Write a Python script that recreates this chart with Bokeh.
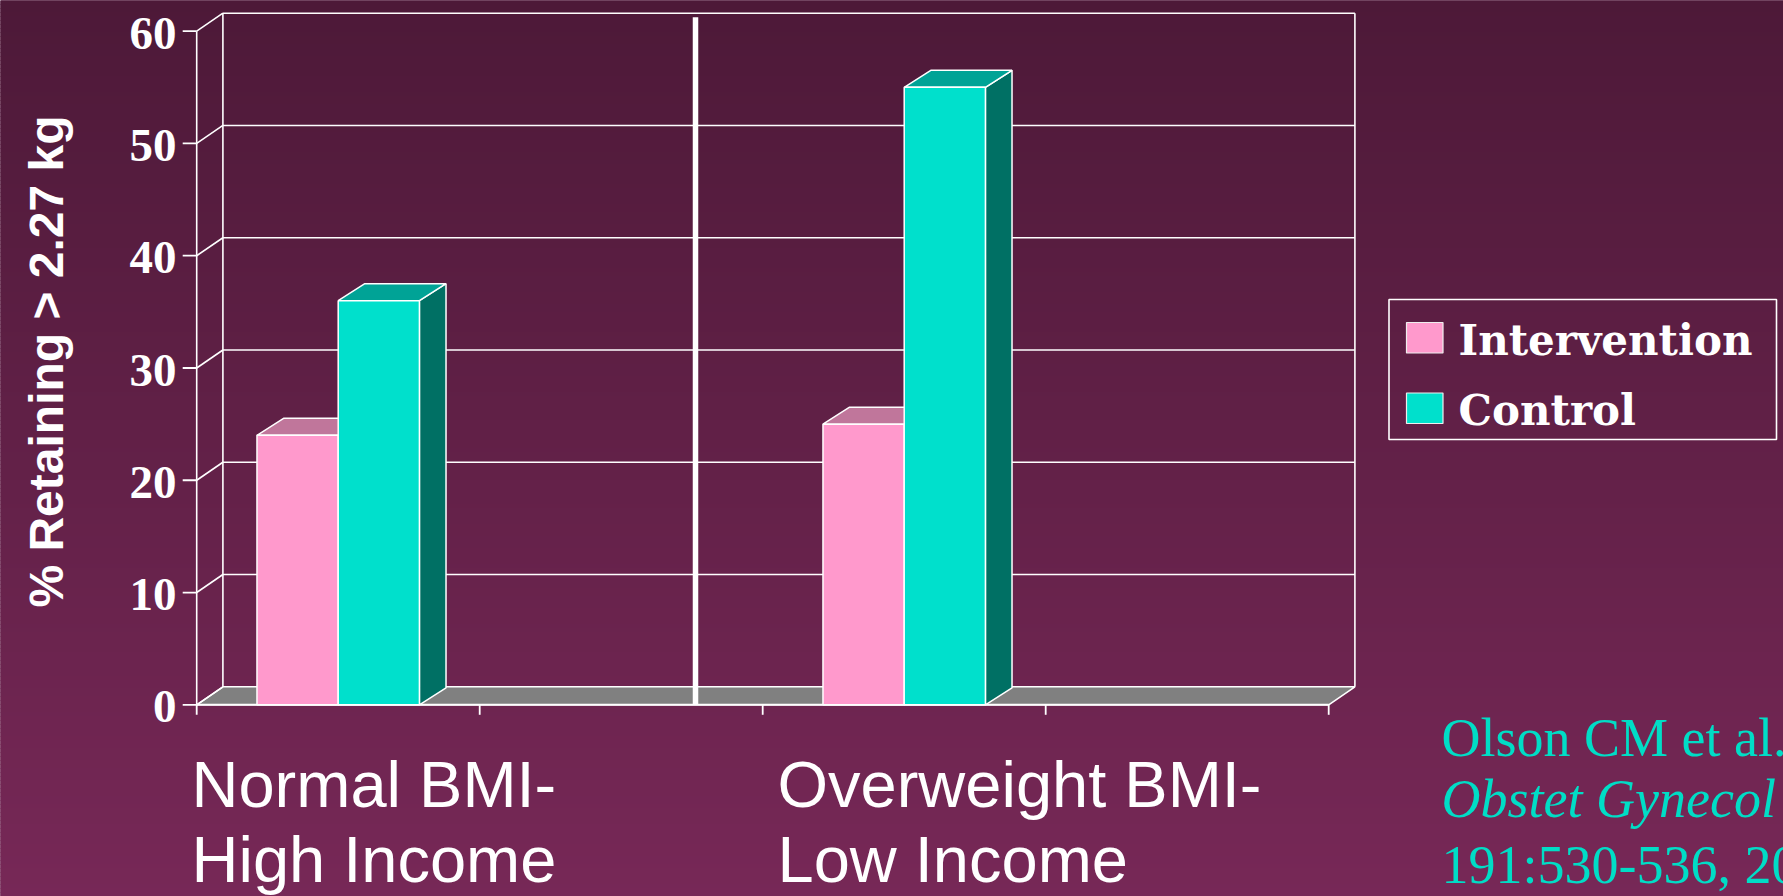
import numpy as np
from bokeh.plotting import figure
from bokeh.models import Range1d
from bokeh.core.properties import value
from bokeh.embed import file_html
from bokeh.resources import INLINE

# ---------------- data ----------------
categories = ["Normal BMI-\nHigh Income", "Overweight BMI-\nLow Income"]
category_slots = [0, 2]          # slot index on the 4-slot category axis
n_slots = 4
series_names = ["Intervention", "Control"]
intervention = [24, 25]
control = [36, 55]
y_ticks = [0, 10, 20, 30, 40, 50, 60]
y_tick_labels = ["0", "10", "20", "30", "40", "50", "60"]
y_title = "% Retaining > 2.27 kg"
citation = ["Olson CM et al.", "Obstet Gynecol", "191:530-536, 2004"]

# ---------------- colours ----------------
BG_TOP = np.array([77, 25, 56])
BG_BOT = np.array([119, 40, 87])
PINK_FRONT, PINK_TOP, PINK_SIDE = "#FF99CC", "#C0769B", "#A0607F"
CYAN_FRONT, CYAN_TOP, CYAN_SIDE = "#00E0CC", "#00A396", "#007064"
FLOOR = "#808080"
CITE = "#00DDC6"

# ---------------- pixel <-> data helpers (full-image pixels) ----------------
X0_PX, XU_PX = 196.2, 283.0      # x of category-axis origin, px per slot
Y0_PX, YU_PX = 704.3, 11.227     # y of value 0, px per value unit
OFF = 0
BASE_CORR = 0.36                 # empirical baseline correction (em)


def px2x(px):
    return (px - X0_PX) / XU_PX


def px2y(py):
    return (Y0_PX - py) / YU_PX


def base_y(py, fs):
    return px2y(py - BASE_CORR * fs)


W, H = 1783, 896
xr = Range1d(px2x(OFF), px2x(OFF + W))
yr = Range1d(px2y(OFF + H), px2y(OFF))

p = figure(width=W, height=H, x_range=xr, y_range=yr, output_backend="svg",
           toolbar_location=None, x_axis_type=None, y_axis_type=None,
           min_border=0)
p.outline_line_color = None
p.background_fill_color = "#62214A"
p.border_fill_color = "#62214A"

# ---------------- gradient background ----------------
NS = 224
edges = np.linspace(OFF, OFF + H, NS + 1)
tops, bots, cols = [], [], []
for i in range(NS):
    t = (edges[i] - OFF) / H
    c = BG_TOP * (1 - t) + BG_BOT * t
    cols.append("#%02x%02x%02x" % tuple(int(round(v)) for v in c))
    tops.append(px2y(edges[i]))
    bots.append(px2y(edges[i + 1]))
p.quad(left=xr.start, right=xr.end, top=tops, bottom=bots,
       fill_color=cols, line_color=cols, line_width=1)

# ---------------- 3D wall / floor ----------------
dxu = 26.2 / XU_PX
dyu = 18.0 / YU_PX
ymax = y_ticks[-1]

p.patch(x=[0, n_slots, n_slots + dxu, dxu], y=[0, 0, dyu, dyu],
        fill_color=FLOOR, line_color="white", line_width=1.6)

xs, ys = [], []
for v in y_ticks[1:]:
    xs.append([dxu, n_slots + dxu]); ys.append([v + dyu, v + dyu])
for v in y_ticks:
    xs.append([0, dxu]); ys.append([v, v + dyu])
xs.append([dxu, dxu]); ys.append([dyu, ymax + dyu])
xs.append([n_slots + dxu, n_slots + dxu]); ys.append([dyu, ymax + dyu])
xs.append([0, 0]); ys.append([0, ymax])
p.multi_line(xs=xs, ys=ys, line_color="white", line_width=1.6)

# axis ticks
p.segment(x0=[-14 / XU_PX] * len(y_ticks), y0=y_ticks, x1=[0] * len(y_ticks),
          y1=y_ticks, line_color="white", line_width=1.8)
slots = list(range(n_slots + 1))
p.segment(x0=slots, y0=[0] * len(slots), x1=slots,
          y1=[-10 / YU_PX] * len(slots), line_color="white", line_width=1.8)
p.segment(x0=[0], y0=[0], x1=[n_slots], y1=[0], line_color="white", line_width=2)

# ---------------- 3D bars ----------------
BW = 0.287
dxb = 26.6 / XU_PX
dyb = 17.0 / YU_PX


def bar3d(lefts, vals, front, top, side):
    rights = [l + BW for l in lefts]
    p.patches(xs=[[r, r + dxb, r + dxb, r] for r in rights],
              ys=[[0, dyb, v + dyb, v] for v in vals],
              fill_color=side, line_color="white", line_width=1.5)
    p.patches(xs=[[l, r, r + dxb, l + dxb] for l, r in zip(lefts, rights)],
              ys=[[v, v, v + dyb, v + dyb] for v in vals],
              fill_color=top, line_color="white", line_width=1.5)
    p.quad(left=lefts, right=rights, bottom=[0] * len(vals), top=vals,
           fill_color=front, line_color="white", line_width=1.5)


centers = [s + 0.5 for s in category_slots]
bar3d([c - BW for c in centers], intervention, PINK_FRONT, PINK_TOP, PINK_SIDE)
bar3d(list(centers), control, CYAN_FRONT, CYAN_TOP, CYAN_SIDE)

# separator line between the two groups
sep_x = px2x(695.0)
p.segment(x0=[sep_x], y0=[0], x1=[sep_x], y1=[px2y(16.7)],
          line_color="white", line_width=5.5)

# ---------------- texts ----------------
FS_TICK = 47
p.text(x=[px2x(176)] * len(y_ticks),
       y=[v - (19.0 - BASE_CORR * FS_TICK) / YU_PX for v in y_ticks],
       text=y_tick_labels, text_font=value("Liberation Serif"),
       text_font_style="bold", text_font_size="%dpx" % FS_TICK, text_color="white",
       text_align="right", text_baseline="alphabetic")

FS_YT = 48
p.text(x=[px2x(63 - BASE_CORR * FS_YT)], y=[px2y(361)], text=[y_title], angle=np.pi / 2,
       text_font=value("Liberation Sans"), text_font_style="bold",
       text_font_size="%dpx" % FS_YT, text_color="white", text_align="center",
       text_baseline="alphabetic")

FS_CAT = 65
label_left_px = [191.0, 777.0]
line_base_px = [807.0, 882.0]
for lx, cat in zip(label_left_px, categories):
    lines = cat.split("\n")
    p.text(x=[px2x(lx)] * len(lines),
           y=[base_y(b, FS_CAT) for b in line_base_px[:len(lines)]],
           text=lines, text_font=value("Liberation Sans"),
           text_font_size="%dpx" % FS_CAT,
           text_color="white", text_align="left", text_baseline="alphabetic")

# legend
p.quad(left=[px2x(1388.5)], right=[px2x(1776)], top=[px2y(299)], bottom=[px2y(439)],
       fill_color=None, line_color="white", line_width=1.6)
sw_top_px = [322.0, 392.5]
p.quad(left=[px2x(1406)] * 2, right=[px2x(1442.5)] * 2,
       top=[px2y(t) for t in sw_top_px], bottom=[px2y(t + 30.5) for t in sw_top_px],
       fill_color=[PINK_FRONT, CYAN_FRONT], line_color="#EEEEEE", line_width=1.2)
FS_LEG = 42
p.text(x=[px2x(1458)] * 2, y=[base_y(355, FS_LEG), base_y(425, FS_LEG)],
       text=series_names,
       text_font=value("DejaVu Serif"), text_font_style="bold",
       text_font_size="%dpx" % FS_LEG, text_color="white", text_align="left",
       text_baseline="alphabetic")

# citation
FS_CITE = 54
cite_base_px = [757.0, 818.0, 884.0]
cite_styles = ["normal", "italic", "normal"]
for txt, b, st in zip(citation, cite_base_px, cite_styles):
    p.text(x=[px2x(1441)], y=[base_y(b, FS_CITE)], text=[txt],
           text_font=value("Liberation Serif"), text_font_style=st,
           text_font_size="%dpx" % FS_CITE, text_color=CITE, text_align="left",
           text_baseline="alphabetic")

open("out.html", "w").write(file_html(p, INLINE))
